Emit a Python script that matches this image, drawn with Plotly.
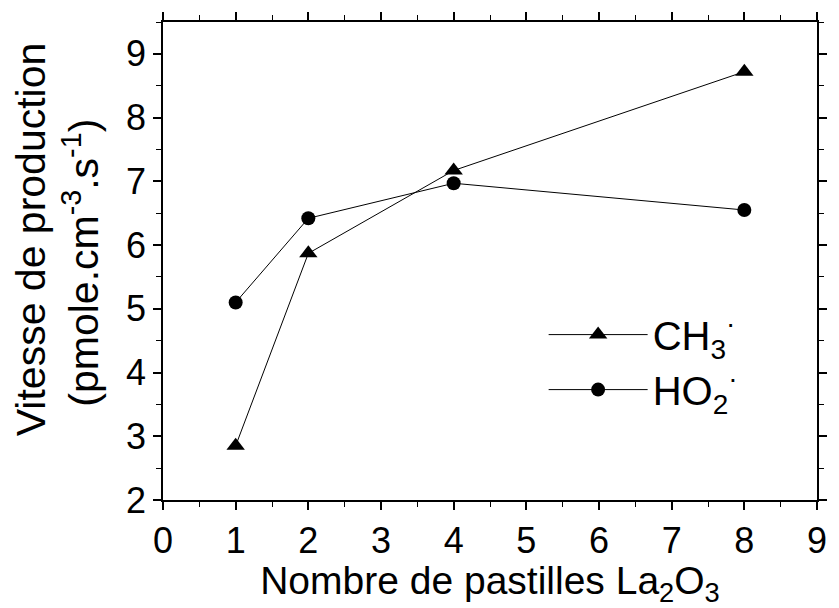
import plotly.graph_objects as go

x_vals = [1, 2, 4, 8]
ch3_vals = [2.85, 5.87, 7.17, 8.72]
ho2_vals = [5.10, 6.42, 6.97, 6.55]
series_names = ["CH<sub>3</sub><sup>·</sup>", "HO<sub>2</sub><sup>·</sup>"]
y_title_lines = ["Vitesse de production", "(pmole.cm<sup>-3</sup>.s<sup>-1</sup>)"]
x_title = "Nombre de pastilles La<sub>2</sub>O<sub>3</sub>"

font_family = "Liberation Sans, Arial, sans-serif"

fig = go.Figure()
fig.add_trace(go.Scatter(
    x=x_vals, y=ch3_vals, mode="lines+markers", name=series_names[0],
    line=dict(color="black", width=1),
    marker=dict(symbol="triangle-up", size=16, color="black"),
))
fig.add_trace(go.Scatter(
    x=x_vals, y=ho2_vals, mode="lines+markers", name=series_names[1],
    line=dict(color="black", width=1),
    marker=dict(symbol="circle", size=14, color="black"),
))

axis_common = dict(
    showline=True, linecolor="black", linewidth=1.5, mirror="ticks",
    ticks="outside", ticklen=8, tickwidth=1.5, tickcolor="black",
    showgrid=False, zeroline=False,
    tickfont=dict(family=font_family, size=36, color="black"),
    minor=dict(ticks="outside", ticklen=5, tickwidth=1.2, tickcolor="black", dtick=0.5),
)

fig.update_xaxes(range=[0, 9], dtick=1, tick0=0,
                 title=dict(text=x_title,
                            font=dict(family=font_family, size=39, color="black"), standoff=8),
                 **axis_common)
fig.update_yaxes(range=[2, 9.5], dtick=1, tick0=2, **axis_common)

# y-axis title as two rotated text lines
fig.add_annotation(text=y_title_lines[0], xref="paper", yref="paper",
                   x=-0.2015, y=0.546, xanchor="center", yanchor="middle",
                   textangle=-90, showarrow=False,
                   font=dict(family=font_family, size=41, color="black"))
fig.add_annotation(text=y_title_lines[1], xref="paper", yref="paper",
                   x=-0.125, y=0.497, xanchor="center", yanchor="middle",
                   textangle=-90, showarrow=False,
                   font=dict(family=font_family, size=41, color="black"))

fig.update_layout(
    width=839, height=608,
    margin=dict(l=163, r=16, t=13, b=108),
    plot_bgcolor="white", paper_bgcolor="white",
    showlegend=True,
    legend=dict(x=0.582, y=0.414, xanchor="left", yanchor="top",
                font=dict(family=font_family, size=40, color="black"),
                bgcolor="rgba(0,0,0,0)", itemwidth=99),
)

fig.write_html("out.html", config={"displayModeBar": False},
               post_script="document.body.style.margin='0';document.body.style.overflow='hidden';")
